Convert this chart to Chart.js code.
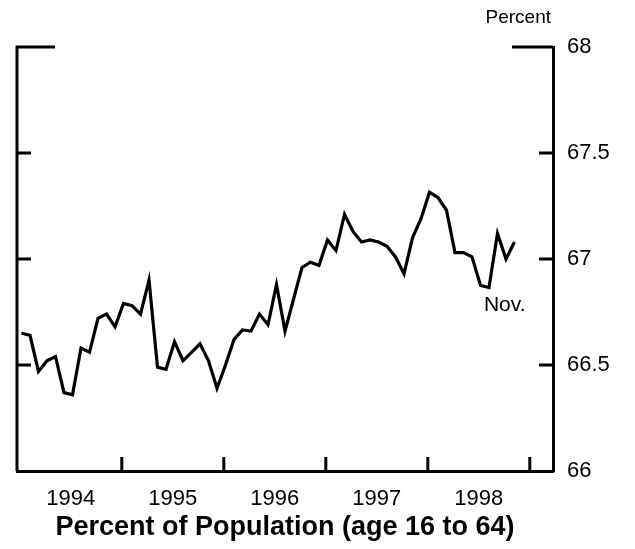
<!DOCTYPE html>
<html>
<head>
<meta charset="utf-8">
<script src="https://cdn.jsdelivr.net/npm/chart.js@4.4.0/dist/chart.umd.min.js"></script>
<style>
  html, body { margin: 0; padding: 0; background: #fff; }
  #wrap { width: 635px; height: 549px; position: relative; }
</style>
</head>
<body>
<div id="wrap"><canvas id="chart"></canvas></div>
<script>
// Datos: tasa mensual, ene 1994 - nov 1998 (índice de mes desde ene 1994)
const years = ['1994', '1995', '1996', '1997', '1998'];
const values = [
  66.65, 66.64, 66.47, 66.52, 66.54, 66.37, 66.36, 66.58, 66.56, 66.72, 66.74, 66.68,
  66.79, 66.78, 66.74, 66.90, 66.49, 66.48, 66.61, 66.52, 66.56, 66.60, 66.52, 66.39,
  66.50, 66.62, 66.665, 66.66, 66.74, 66.69, 66.88, 66.66, 66.81, 66.96, 66.985, 66.97,
  67.09, 67.04, 67.21, 67.13, 67.08, 67.09, 67.08, 67.06, 67.01, 66.93, 67.10, 67.19,
  67.315, 67.29, 67.23, 67.03, 67.03, 67.01, 66.875, 66.865, 67.12, 67.00, 67.08
];
const yTicks = [66, 66.5, 67, 67.5, 68];

const FONT = '"Liberation Sans", Arial, Helvetica, sans-serif';
Chart.defaults.font.family = FONT;
Chart.defaults.color = '#000';

// posiciones de marcas de año (límites) y etiquetas (centro del año)
const yearEdges = years.map((y, i) => 11.8 + 12 * i);
const yearMids = years.map((y, i) => 5.8 + 12 * i);

const puntos = values.map((v, i) => ({ x: i, y: v }));

// Marco con marcas hacia adentro, como en el original
const marco = {
  id: 'marco',
  afterDraw(chart) {
    const { ctx, chartArea: a, scales: { x, y } } = chart;
    ctx.save();
    ctx.strokeStyle = '#000';
    ctx.lineWidth = 3;
    ctx.beginPath();
    // eje izquierdo
    ctx.moveTo(a.left, a.top - 1.5);
    ctx.lineTo(a.left, a.bottom);
    // tramos superiores
    ctx.moveTo(a.left - 1.5, a.top);
    ctx.lineTo(a.left + 38, a.top);
    ctx.moveTo(a.right - 41, a.top);
    ctx.lineTo(a.right, a.top);
    // marcas en Y
    yTicks.slice(1, -1).forEach(v => {
      const py = y.getPixelForValue(v);
      ctx.moveTo(a.left, py);
      ctx.lineTo(a.left + 14, py);
      ctx.moveTo(a.right - 14, py);
      ctx.lineTo(a.right, py);
    });
    // marcas en X
    yearEdges.forEach(v => {
      const px = x.getPixelForValue(v);
      ctx.moveTo(px, a.bottom);
      ctx.lineTo(px, a.bottom - 14);
    });
    ctx.stroke();

    ctx.fillStyle = '#000';
    ctx.textBaseline = 'middle';
    ctx.font = '19px ' + FONT;
    ctx.textAlign = 'right';
    ctx.fillText('Percent', a.right - 2, 18);

    ctx.font = '21px ' + FONT;
    ctx.textAlign = 'left';
    ctx.fillText('Nov.', x.getPixelForValue(54.4), y.getPixelForValue(66.78));
    ctx.restore();
  }
};

new Chart(document.getElementById('chart'), {
  type: 'line',
  data: {
    datasets: [{
      data: puntos,
      borderColor: '#000',
      borderWidth: 3.2,
      pointRadius: 0,
      tension: 0,
      fill: false
    }]
  },
  options: {
    responsive: true,
    maintainAspectRatio: false,
    animation: false,
    layout: { padding: { left: 17, top: 47, right: 0, bottom: 0 } },
    plugins: {
      legend: { display: false },
      tooltip: { enabled: false }
    },
    scales: {
      x: {
        type: 'linear',
        min: -0.53,
        max: 62.53,
        afterBuildTicks: s => { s.ticks = yearMids.map(v => ({ value: v })); },
        afterFit: s => { s.height = 78; },
        ticks: {
          autoSkip: false,
          maxRotation: 0,
          padding: 15,
          font: { size: 22 },
          callback: (v, i) => years[i]
        },
        grid: { display: true, drawOnChartArea: false, drawTicks: false },
        border: { display: true, color: '#000', width: 3 },
        title: {
          display: true,
          text: 'Percent of Population (age 16 to 64)',
          font: { size: 27, weight: 'bold' },
          padding: { top: 0, bottom: 5 }
        }
      },
      y: {
        position: 'right',
        min: 66,
        max: 68,
        afterBuildTicks: s => { s.ticks = yTicks.map(v => ({ value: v })); },
        afterFit: s => { s.width = 82; },
        ticks: {
          padding: 14,
          font: { size: 22 },
          callback: v => String(v)
        },
        grid: { display: true, drawOnChartArea: false, drawTicks: false },
        border: { display: true, color: '#000', width: 3 }
      }
    }
  },
  plugins: [marco]
});
</script>
</body>
</html>
